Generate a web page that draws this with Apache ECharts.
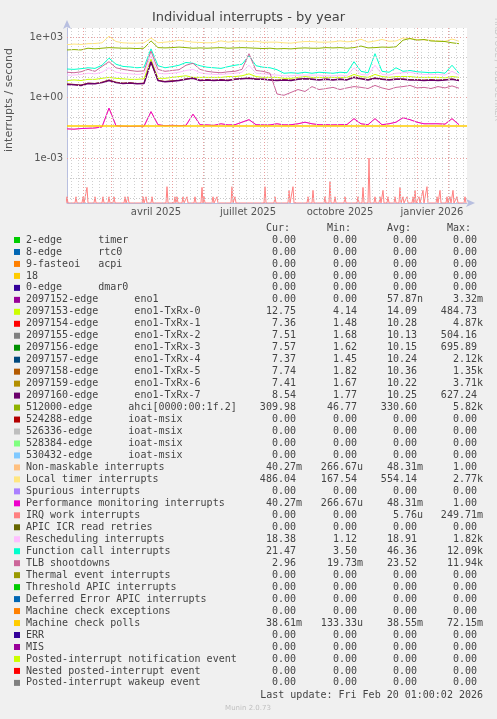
<!DOCTYPE html>
<html>
<head>
<meta charset="utf-8">
<script src="https://cdn.jsdelivr.net/npm/echarts@6/dist/echarts.min.js"></script>
<style>
  html,body{margin:0;padding:0;background:#f0f0f0;}
  #chart{width:497px;height:719px;}
</style>
</head>
<body>
<div id="chart"></div>
<script>
// weekly samples, starting 2025-01-16
var startDay = '2025-01-16';

var localTimer = [420,450,430,470,480,520,1100,600,520,500,
  500,520,900,520,560,600,700,620,560,540,
  520,530,650,560,620,640,600,620,550,560,
  560,520,500,560,600,600,560,560,580,650,
  580,620,780,560,640,760,620,640,900,820,
  760,720,700,640,620,800,620];
var ahci = [230,240,230,280,260,280,300,290,280,280,
  270,280,650,300,290,300,320,300,280,290,
  280,290,300,280,290,300,290,280,270,280,
  260,270,260,280,290,280,280,300,290,300,
  280,300,360,290,300,320,310,330,700,850,
  700,760,640,620,600,520,470];
var funcCall = [26,25,27,30,28,40,90,45,35,33,
  30,32,260,38,30,34,40,55,50,38,
  32,30,28,34,40,45,120,38,32,30,
  24,16,17,16,18,16,18,17,16,18,
  17,60,20,17,150,20,18,30,20,22,
  19,18,17,18,16,40,16];
var tlb = [18,17,19,25,20,35,60,30,25,22,
  20,21,200,25,20,22,24,40,50,25,
  20,18,17,19,20,25,150,22,20,16,
  1.5,1.3,1.8,2.5,2.0,3.5,2.5,2.8,3.2,2.5,
  3.0,3.5,3.2,2.8,4.0,3.0,2.5,3.2,3.5,4.0,
  3.0,3.2,2.8,3.5,3.0,3.8,2.9];
var resched = [13,13,14,16,15,18,30,18,16,15,
  14,15,120,16,15,16,18,22,25,17,
  15,14,14,15,16,18,40,16,15,14,
  13,12,12,13,13,13,13,12,12,13,
  12,30,14,13,40,14,13,16,17,18,
  15,14,14,14,13,20,13];
var txrx0 = [7,7.5,7,8,8,9,10,9,8.5,8,
  8,8.5,80,9,9,10,11,12,10,10,
  10,10,10,11,11,12,15,11,10,10,
  10,9,9,10,11,10,10,10,10,10,
  10,14,11,10,14,11,10,11,11,11,
  10,10,10,10,9.5,11,10];
var txrx5 = [4.8,4.5,4.2,5.2,5.0,5.8,7.5,5.8,5.2,5.5,
  5.0,5.2,55,7.2,6.3,6.8,7.2,8.5,9.5,7.2,
  7.8,7.2,7.8,7.3,8.3,8.8,9.5,8.4,8.2,7.8,
  7.3,7.8,7.3,8.3,8.8,8.3,7.8,8.3,7.8,8.3,
  7.8,10.5,8.8,7.8,9.5,8.3,7.8,8.4,8.3,7.8,
  7.8,7.3,7.8,7.3,7.8,8.3,7.4];
var txrx7 = [4.5,4.3,4.0,5.0,4.8,5.5,7,5.5,5.0,5.2,
  4.8,5.0,60,7,6,6.5,7,8,9,7,
  7.5,7,7.5,7,8,8.5,9,8,8,7.5,
  7,7.5,7,8,8.5,8,7.5,8,7.5,8,
  7.5,10,8.5,7.5,9,8,7.5,8,8,7.5,
  7.5,7,7.5,7,7.5,8,7];
var perfMon = [0.028,0.027,0.029,0.030,0.031,0.035,0.3,0.04,0.038,0.037,
  0.038,0.038,0.2,0.045,0.04,0.042,0.04,0.042,0.15,0.045,
  0.044,0.042,0.05,0.044,0.045,0.06,0.08,0.045,0.044,0.044,
  0.05,0.044,0.045,0.05,0.06,0.05,0.045,0.045,0.044,0.045,
  0.046,0.09,0.05,0.045,0.09,0.045,0.05,0.06,0.1,0.08,
  0.06,0.05,0.05,0.05,0.048,0.09,0.045];
var mcPolls = [0.0386, 0.0386]; // flat line, first and last sample
// IRQ work interrupts: [day offset from start, rate]
var irqWork = [[0,1.2e-5],[9,1.2e-5],[16,1.2e-5],[20,3.5e-5],[28,1.2e-5],[36,1.2e-5],[42,1.2e-5],[47,1.2e-5],
  [58,1.2e-5],[61,1.2e-5],[76,1.2e-5],[79,1.2e-5],[85,1.2e-5],[100,3.8e-5],[108,1.2e-5],[110,1.2e-5],
  [116,1.2e-5],[120,1.2e-5],[128,1.2e-5],[135,3.5e-5],[137,1.2e-5],[146,1.2e-5],[150,1.2e-5],[165,3.8e-5],
  [168,1.2e-5],[198,3.8e-5],[208,1.2e-5],[222,2.5e-5],[226,3.8e-5],[241,1.2e-5],[246,2.5e-5],[258,1.2e-5],
  [263,6.8e-5],[268,1.2e-5],[278,1.2e-5],[291,1.2e-5],[296,3.5e-5],[302,1e-3],[308,1.2e-5],[313,1.2e-5],
  [316,2.5e-5],[321,1.2e-5],[328,1.2e-5],[333,3.5e-5],[336,1.2e-5],[340,1.2e-5],[346,1.2e-5],[348,2.5e-5],
  [352,1.2e-5],[356,2.5e-5],[360,3.8e-5],[370,1.2e-5],[373,2.5e-5],[380,1.2e-5],[383,1.2e-5],[386,2.5e-5],
  [390,1.2e-5],[398,1.2e-5]];

var monthStarts = ['2025-02-01','2025-03-01','2025-04-01','2025-05-01','2025-06-01','2025-07-01','2025-08-01',
  '2025-09-01','2025-10-01','2025-11-01','2025-12-01','2026-01-01','2026-02-01'];
var quarterLabels = [['2025-04-15','avril 2025'],['2025-07-16','juillet 2025'],['2025-10-16','octobre 2025'],['2026-01-16','janvier 2026']];
var decades = [-5,-4,-3,-2,-1,0,1,2,3];
var decadeLabels = {'3':'1e+03','0':'1e+00','-3':'1e-03'};

var legendNames = ['2-edge      timer','8-edge      rtc0','9-fasteoi   acpi','18','0-edge      dmar0',
  '2097152-edge      eno1','2097153-edge      eno1-TxRx-0','2097154-edge      eno1-TxRx-1','2097155-edge      eno1-TxRx-2',
  '2097156-edge      eno1-TxRx-3','2097157-edge      eno1-TxRx-4','2097158-edge      eno1-TxRx-5','2097159-edge      eno1-TxRx-6',
  '2097160-edge      eno1-TxRx-7','512000-edge      ahci[0000:00:1f.2]','524288-edge      ioat-msix','526336-edge      ioat-msix',
  '528384-edge      ioat-msix','530432-edge      ioat-msix','Non-maskable interrupts','Local timer interrupts','Spurious interrupts',
  'Performance monitoring interrupts','IRQ work interrupts','APIC ICR read retries','Rescheduling interrupts',
  'Function call interrupts','TLB shootdowns','Thermal event interrupts','Threshold APIC interrupts',
  'Deferred Error APIC interrupts','Machine check exceptions','Machine check polls','ERR','MIS',
  'Posted-interrupt notification event','Nested posted-interrupt event','Posted-interrupt wakeup event'];
var legendColors = ['#00CC00','#0066B3','#FF8000','#FFCC00','#330099','#990099','#CCFF00','#FF0000','#808080',
  '#008F00','#00487D','#B35A00','#B38F00','#6B006B','#8FB300','#B30000','#BEBEBE','#80FF80','#80C9FF',
  '#FFC080','#FFE680','#AA80FF','#EE00CC','#FF8080','#666600','#FFBFFF','#00FFCC','#CC6699','#999900',
  '#00CC00','#0066B3','#FF8000','#FFCC00','#330099','#990099','#CCFF00','#FF0000','#808080'];
var curVals = ['0.00','0.00','0.00','0.00','0.00','0.00','12.75','7.36','7.51','7.57','7.37','7.74','7.41','8.54','309.98',
  '0.00','0.00','0.00','0.00','40.27m','486.04','0.00','40.27m','0.00','0.00','18.38','21.47','2.96','0.00','0.00',
  '0.00','0.00','38.61m','0.00','0.00','0.00','0.00','0.00'];
var minVals = ['0.00','0.00','0.00','0.00','0.00','0.00','4.14','1.48','1.68','1.62','1.45','1.82','1.67','1.77','46.77',
  '0.00','0.00','0.00','0.00','266.67u','167.54','0.00','266.67u','0.00','0.00','1.12','3.50','19.73m','0.00','0.00',
  '0.00','0.00','133.33u','0.00','0.00','0.00','0.00','0.00'];
var avgVals = ['0.00','0.00','0.00','0.00','0.00','57.87n','14.09','10.28','10.13','10.15','10.24','10.36','10.22','10.25','330.60',
  '0.00','0.00','0.00','0.00','48.31m','554.14','0.00','48.31m','5.76u','0.00','18.91','46.36','23.52','0.00','0.00',
  '0.00','0.00','38.55m','0.00','0.00','0.00','0.00','0.00'];
var maxVals = ['0.00','0.00','0.00','0.00','0.00','3.32m','484.73','4.87k','504.16','695.89','2.12k','1.35k','3.71k','627.24','5.82k',
  '0.00','0.00','0.00','0.00','1.00','2.77k','0.00','1.00','249.71m','0.00','1.82k','12.09k','11.94k','0.00','0.00',
  '0.00','0.00','72.15m','0.00','0.00','0.00','0.00','0.00'];

var Y_MIN = -5.23, Y_MAX = 3.45;
var DAY = 86400000;
var t0 = +new Date(startDay + 'T00:00:00');

function lg(v){ return v > 0 ? Math.max(Math.log10(v), Y_MIN) : Y_MIN; }
function weekly(arr){
  return arr.map(function(v,i){ return [t0 + i*7*DAY, lg(v)]; });
}
function line(name, color, arr, width){
  return {name:name, type:'line', data:weekly(arr), symbol:'none', silent:true, animation:false,
    lineStyle:{color:color, width:width || 1}};
}

// IRQ work spikes as narrow peaks on the zero baseline
var irqData = [];
irqWork.forEach(function(p){
  irqData.push([t0 + (p[0]-1)*DAY, Y_MIN], [t0 + p[0]*DAY, lg(p[1])], [t0 + (p[0]+1)*DAY, Y_MIN]);
});

var gridLines = [];
decades.forEach(function(d){
  var major = d % 3 === 0;
  gridLines.push({yAxis:d, lineStyle:{color: major ? '#e8a0a0' : '#c8c8c8', type:[1,2], width:1},
    label:{show: major, position:'start', formatter: decadeLabels[String(d)] || '', color:'#555',
      fontFamily:'DejaVu Sans', fontSize:10, distance:4}});
});
for (var w = t0 + 4*DAY; w < t0 + 400*DAY; w += 7*DAY) {
  gridLines.push({xAxis:w, lineStyle:{color:'#d0d0d0', type:[1,2], width:1}, label:{show:false}});
}
monthStarts.forEach(function(m){
  gridLines.push({xAxis:+new Date(m + 'T00:00:00'), lineStyle:{color:'#e8a0a0', type:[1,2], width:1}, label:{show:false}});
});

var series = [
  {type:'line', data:[], silent:true, animation:false,
    markLine:{silent:true, symbol:'none', animation:false, data:gridLines}},
  {name:'IRQ work interrupts', type:'line', data:irqData, symbol:'none', silent:true, z:1,
    lineStyle:{color:'#FF8080', width:1}},
  line('Local timer interrupts', '#FFE680', localTimer),
  line('512000-edge', '#8FB300', ahci),
  line('Non-maskable interrupts', '#FFC080', perfMon),
  line('Performance monitoring interrupts', '#EE00CC', perfMon),
  line('2097153-edge', '#CCFF00', txrx0),
  line('2097158-edge', '#B35A00', txrx5),
  line('2097160-edge', '#6B006B', txrx7, 1.5),
  line('Rescheduling interrupts', '#FFBFFF', resched),
  line('Function call interrupts', '#00FFCC', funcCall),
  line('TLB shootdowns', '#CC6699', tlb),
  {name:'Machine check polls', type:'line', symbol:'none', silent:true, animation:false,
    data:[[t0, lg(mcPolls[0])], [t0 + 400*DAY, lg(mcPolls[1])]], lineStyle:{color:'#FFCC00', width:1.5}}
];

var chart = echarts.init(document.getElementById('chart'));

// legend table and texts
var graphics = [
  {type:'text', left:'center', top:11, style:{text:'Individual interrupts - by year', fill:'#444', fontFamily:'DejaVu Sans', fontSize:13}},
  {type:'text', x:4, y:100, rotation:Math.PI/2, style:{text:'interrupts / second', fill:'#555', fontFamily:'DejaVu Sans', fontSize:11, align:'center', verticalAlign:'top'}},
  {type:'text', x:493, y:18, rotation:-Math.PI/2, style:{text:'RRDTOOL / TOBI OETIKER', fill:'#c8c8c8', fontFamily:'DejaVu Sans', fontSize:8, align:'left', verticalAlign:'bottom'}}
];
var mono = 'DejaVu Sans Mono';
var colsX = [302, 363, 423, 483];
['Cur:','Min:','Avg:','Max:'].forEach(function(h,i){
  graphics.push({type:'text', x:colsX[i]-12, y:228, style:{text:h, fill:'#444', fontFamily:mono, fontSize:10, align:'right', verticalAlign:'middle'}});
});
function cell(v){ return /[a-z]$/.test(v) ? v : v + ' '; }
legendNames.forEach(function(n,i){
  var y = 240 + i*11.97;
  graphics.push({type:'rect', shape:{x:14, y:y-3, width:6, height:6}, style:{fill:legendColors[i]}});
  graphics.push({type:'text', x:26, y:y, style:{text:n, fill:'#444', fontFamily:mono, fontSize:10, verticalAlign:'middle'}});
  [curVals, minVals, avgVals, maxVals].forEach(function(col,j){
    graphics.push({type:'text', x:colsX[j], y:y, style:{text:cell(col[i]), fill:'#444', fontFamily:mono, fontSize:10, align:'right', verticalAlign:'middle'}});
  });
});
graphics.push({type:'text', x:483, y:695, style:{text:'Last update: Fri Feb 20 01:00:02 2026', fill:'#444', fontFamily:mono, fontSize:10, align:'right', verticalAlign:'middle'}});
graphics.push({type:'text', x:248, y:708, style:{text:'Munin 2.0.73', fill:'#c0c0c0', fontFamily:'DejaVu Sans', fontSize:7, align:'center', verticalAlign:'middle'}});

chart.setOption({
  backgroundColor:'#f0f0f0',
  animation:false,
  grid:{left:67, right:30, top:28, bottom:516, backgroundColor:'#ffffff', show:true, borderWidth:0},
  xAxis:{type:'time', min:t0, max:t0 + 400*DAY,
    axisLine:{show:true, onZero:false, lineStyle:{color:'#b8bfe0', width:1}, symbol:['none','arrow'], symbolSize:[6,9], symbolOffset:[0,8]},
    axisTick:{show:false}, axisLabel:{show:false}, splitLine:{show:false}},
  yAxis:{type:'value', min:Y_MIN, max:Y_MAX,
    axisLine:{show:true, onZero:false, lineStyle:{color:'#b8bfe0', width:1}, symbol:['none','arrow'], symbolSize:[6,9], symbolOffset:[0,8]},
    axisTick:{show:false}, axisLabel:{show:false}, splitLine:{show:false}},
  series:series
});

// quarter labels placed through the x scale
quarterLabels.forEach(function(q){
  var px = chart.convertToPixel({gridIndex:0}, [+new Date(q[0] + 'T00:00:00'), Y_MIN]);
  graphics.push({type:'text', x:px[0], y:px[1]+9, style:{text:q[1], fill:'#555', fontFamily:'DejaVu Sans', fontSize:10, align:'center', verticalAlign:'middle'}});
});
chart.setOption({graphic:graphics});
</script>
</body>
</html>
